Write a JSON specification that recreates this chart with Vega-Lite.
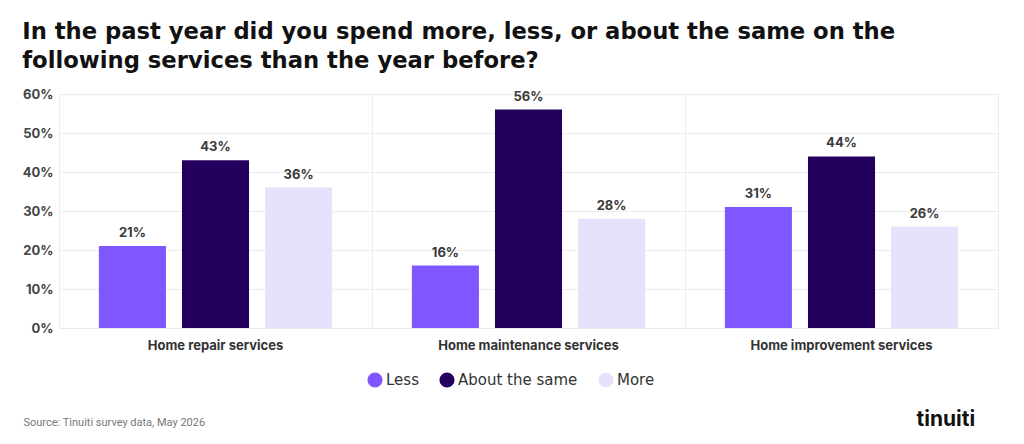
{
  "$schema": "https://vega.github.io/schema/vega-lite/v6.json",
  "width": 939,
  "height": 234,
  "padding": {"left": 22, "top": 21, "right": 5, "bottom": 5},
  "background": "white",
  "config": {
    "font": "Inter",
    "view": {"stroke": "#ececec", "strokeWidth": 1}
  },
  "title": {
    "text": ["In the past year did you spend more, less, or about the same on the", "following services than the year before?"],
    "anchor": "start",
    "frame": "bounds",
    "font": "DejaVu Sans",
    "fontSize": 22.7,
    "fontWeight": "bold",
    "color": "#111111",
    "lineHeight": 29,
    "offset": 15
  },
  "data": {
    "values": [
      {"service": "Home repair services", "response": "Less", "pct": 0.21},
      {"service": "Home repair services", "response": "About the same", "pct": 0.43},
      {"service": "Home repair services", "response": "More", "pct": 0.36},
      {"service": "Home maintenance services", "response": "Less", "pct": 0.16},
      {"service": "Home maintenance services", "response": "About the same", "pct": 0.56},
      {"service": "Home maintenance services", "response": "More", "pct": 0.28},
      {"service": "Home improvement services", "response": "Less", "pct": 0.31},
      {"service": "Home improvement services", "response": "About the same", "pct": 0.44},
      {"service": "Home improvement services", "response": "More", "pct": 0.26}
    ]
  },
  "encoding": {
    "x": {
      "field": "service",
      "type": "nominal",
      "sort": ["Home repair services", "Home maintenance services", "Home improvement services"],
      "scale": {"paddingInner": 0, "paddingOuter": 0},
      "axis": {
        "labelAngle": 0,
        "labelLimit": 0,
        "labelFont": "Inter",
        "labelFontSize": 13,
        "labelFontWeight": "bold",
        "labelColor": "#333333",
        "labelPadding": 11,
        "domain": false,
        "ticks": false,
        "grid": true,
        "bandPosition": 0,
        "gridColor": "#ececec",
        "title": "Source: Tinuiti survey data, May 2026",
        "titleFont": "Roboto",
        "titleFontSize": 11,
        "titleFontWeight": "normal",
        "titleColor": "#777777",
        "titleAlign": "left",
        "titleBaseline": "alphabetic",
        "titleAnchor": "start",
        "titleX": -36,
        "titleY": 97
      }
    },
    "xOffset": {
      "field": "response",
      "type": "nominal",
      "sort": ["Less", "About the same", "More"],
      "scale": {"paddingInner": 0.193, "paddingOuter": 0.48}
    }
  },
  "layer": [
    {
      "mark": {"type": "bar"},
      "encoding": {
        "y": {
          "field": "pct",
          "type": "quantitative",
          "scale": {"domain": [0, 0.6]},
          "axis": {
            "values": [0, 0.1, 0.2, 0.3, 0.4, 0.5, 0.6],
            "format": ".0%",
            "labelFont": "Inter",
            "labelFontSize": 13,
            "labelFontWeight": "bold",
            "labelColor": "#444444",
            "labelPadding": 6,
            "domain": false,
            "ticks": false,
            "gridColor": "#ececec",
            "title": null
          }
        },
        "color": {
          "field": "response",
          "type": "nominal",
          "sort": ["Less", "About the same", "More"],
          "scale": {
            "domain": ["Less", "About the same", "More"],
            "range": ["#7f56ff", "#24005e", "#e6e2fb"]
          },
          "legend": {
            "orient": "none",
            "direction": "horizontal",
            "legendX": 308,
            "legendY": 278,
            "title": null,
            "symbolType": "circle",
            "symbolSize": 230,
            "symbolStrokeWidth": 0,
            "symbolOpacity": 1,
            "labelFont": "DejaVu Sans",
            "labelFontSize": 15,
            "labelColor": "#333333",
            "labelOffset": 3,
            "labelLimit": 0,
            "columnPadding": 20
          }
        }
      }
    },
    {
      "mark": {
        "type": "text",
        "baseline": "bottom",
        "dy": -6,
        "font": "Inter",
        "fontSize": 13,
        "fontWeight": "bold",
        "color": "#3a3a3a"
      },
      "encoding": {
        "y": {
          "field": "pct",
          "type": "quantitative",
          "scale": {"domain": [0, 0.6]},
          "axis": {
            "orient": "right",
            "labels": false,
            "domain": false,
            "ticks": false,
            "grid": false,
            "title": "tinuiti",
            "titleAngle": 0,
            "titleFont": "Inter",
            "titleFontSize": 21,
            "titleFontWeight": "bold",
            "titleColor": "#111111",
            "titleAlign": "left",
            "titleBaseline": "alphabetic",
            "titleX": -82,
            "titleY": 331
          }
        },
        "text": {"field": "pct", "type": "quantitative", "format": ".0%"},
        "detail": {"field": "response"}
      }
    }
  ],
  "resolve": {"scale": {"y": "independent"}}
}
